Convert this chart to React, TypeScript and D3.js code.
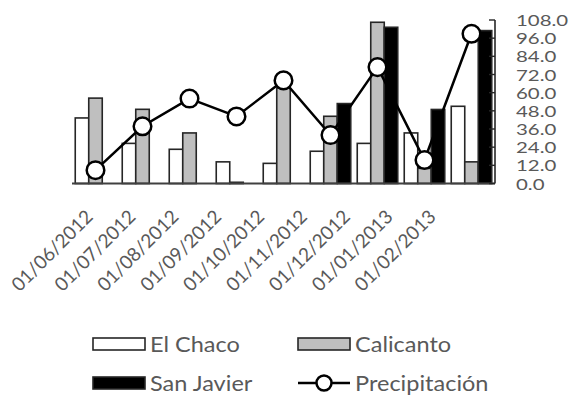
import React from "react";
import * as d3 from "d3";

const categories = [
  "01/06/2012", "01/07/2012", "01/08/2012", "01/09/2012", "01/10/2012",
  "01/11/2012", "01/12/2012", "01/01/2013", "01/02/2013",
];
const elChaco = [43.3, 26.5, 22.6, 14.3, 13.3, 21.3, 26.5, 33.4, 51.0];
const calicanto = [56.4, 49.0, 33.4, 0.8, 63.0, 44.4, 106.5, 10.0, 14.3];
const sanJavier = [0, 0, 0, 0, 0, 52.8, 103.2, 48.9, 101.0];
const precipitacion = [8.8, 37.8, 56.1, 44.3, 68.1, 32.0, 76.9, 15.5, 98.9];
const yTicks = [0, 12, 24, 36, 48, 60, 72, 84, 96, 108];

const seriesNames = ["El Chaco", "Calicanto", "San Javier"];
const seriesData = [elChaco, calicanto, sanJavier];
const seriesFill = ["#ffffff", "#bfbfbf", "#000000"];

const W = 574;
const H = 402;
const FONT = "Lato, 'Open Sans', sans-serif";
const TXT = "#595959";
const SX = 1.12;

export default function App() {
  const x = d3
    .scaleBand<string>()
    .domain(categories)
    .range([72, 495])
    .paddingInner(0.138)
    .paddingOuter(0.069);
  const xs = d3
    .scaleBand<string>()
    .domain(seriesNames)
    .range([0, x.bandwidth()]);
  const y = d3.scaleLinear().domain([0, 108]).range([183.5, 20]);
  const labelX = d3.scalePoint<string>().domain(categories).range([94, 437]);

  const line = d3
    .line<number>()
    .x((_, i) => (x(categories[i]) as number) + x.bandwidth() / 2)
    .y((d) => y(d));

  return (
    <svg
      width={W}
      height={H}
      style={{ position: "absolute", left: 0, top: 0, background: "#fff" }}
    >
      {/* bars */}
      {seriesData.map((data, s) =>
        data.map((v, i) =>
          v > 0 ? (
            <rect
              key={`b${s}-${i}`}
              x={(x(categories[i]) as number) + (xs(seriesNames[s]) as number)}
              y={y(v)}
              width={xs.bandwidth()}
              height={y(0) - y(v)}
              fill={seriesFill[s]}
              stroke="#262626"
              strokeWidth={1.6}
            />
          ) : null
        )
      )}
      {/* baseline */}
      <line x1={72} x2={495} y1={y(0)} y2={y(0)} stroke="#404040" strokeWidth={2} />
      {/* right axis */}
      <line x1={495} x2={495} y1={y(108)} y2={y(0)} stroke="#262626" strokeWidth={1.6} />
      {yTicks.map((t) => (
        <g key={`t${t}`}>
          <line x1={489} x2={495} y1={y(t)} y2={y(t)} stroke="#262626" strokeWidth={1.4} />
          <text
            transform={`translate(516,${y(t)}) scale(1.26,1)`}
            dominantBaseline="central"
            fontFamily={FONT}
            fontSize={16.2}
            fill={TXT}
          >
            {t.toFixed(1)}
          </text>
        </g>
      ))}
      {/* precipitation */}
      <path d={line(precipitacion) || ""} fill="none" stroke="#000" strokeWidth={2.5} />
      {precipitacion.map((v, i) => (
        <circle
          key={`p${i}`}
          cx={(x(categories[i]) as number) + x.bandwidth() / 2}
          cy={y(v)}
          r={8.8}
          fill="#fff"
          stroke="#000"
          strokeWidth={2.5}
        />
      ))}
      {/* x labels */}
      {categories.map((c) => (
        <text
          key={`l${c}`}
          transform={`translate(${labelX(c)},218) rotate(-45)`}
          textAnchor="end"
          fontFamily={FONT}
          fontSize={19}
          fill={TXT}
        >
          {c}
        </text>
      ))}
      {/* legend */}
      <g fontFamily={FONT} fontSize={21} fill={TXT}>
        <rect x={93} y={338} width={52} height={12} fill="#fff" stroke="#262626" strokeWidth={1.6} />
        <text transform={`translate(150,344) scale(${SX},1)`} dominantBaseline="central">
          El Chaco
        </text>
        <rect x={298} y={338} width={52} height={12} fill="#bfbfbf" stroke="#262626" strokeWidth={1.6} />
        <text transform={`translate(355,344) scale(${SX},1)`} dominantBaseline="central">
          Calicanto
        </text>
        <rect x={93} y={377} width={52} height={12} fill="#000" stroke="#262626" strokeWidth={1.6} />
        <text transform={`translate(150,383) scale(${SX},1)`} dominantBaseline="central">
          San Javier
        </text>
        <line x1={298} x2={350} y1={383} y2={383} stroke="#000" strokeWidth={2.5} />
        <circle cx={324} cy={383} r={7.5} fill="#fff" stroke="#000" strokeWidth={2.5} />
        <text transform={`translate(355,383) scale(${SX},1)`} dominantBaseline="central">
          Precipitación
        </text>
      </g>
    </svg>
  );
}
